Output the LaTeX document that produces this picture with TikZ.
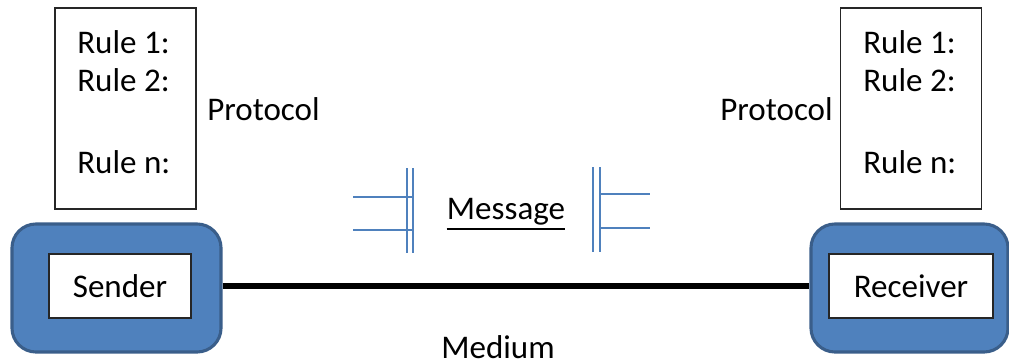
\documentclass[tikz,border=0pt]{standalone}
\usepackage{fontspec}
\setmainfont{Carlito}
\definecolor{boxblue}{RGB}{79,129,189}
\definecolor{boxedge}{RGB}{58,94,138}
\begin{document}
\begin{tikzpicture}[x=0.025cm, y=-0.025cm, font=\fontsize{23.5}{28}\selectfont]

      \tikzset{rulebox/.style={draw=black!85, line width=0.8pt, minimum width=3.525cm, minimum height=5.025cm, inner sep=0pt},
               station/.style={draw=boxedge, fill=boxblue, line width=2.2pt, rounded corners=0.6cm, minimum height=3.2cm, inner sep=0pt},
               namebox/.style={draw=black!85, fill=white, line width=0.8pt, minimum height=1.6cm, inner sep=0pt},
               rule/.style={anchor=west, inner sep=0pt},
               plug/.style={draw=boxblue, line width=1.1pt}}
      \useasboundingbox (0,0) rectangle (1009,362);
%% Stations
      	\node[station, minimum width=5.225cm] (sbox) at (116.5,288) {};
      	\node[station, minimum width=4.925cm] (rbox) at (909.5,288) {};
      	\node[namebox, minimum width=3.55cm] (sender) at (120,286) {Sender};
      	\node[namebox, minimum width=4.1cm] (receiver) at (911,286) {Receiver};
%% Rule boxes
      	\node[rulebox] (lrules) at (125.5,108.5) {};
      	\node[rulebox] (rrules) at (911,108.5) {};
      	\node[rule] (l1) at (77,42) {Rule 1:};
      	\node[rule] (l2) at (77,80) {Rule 2:};
      	\node[rule] (ln) at (77,162) {Rule n:};
      	\node[rule] (r1) at (863,42) {Rule 1:};
      	\node[rule] (r2) at (863,80) {Rule 2:};
      	\node[rule] (rn) at (863,162) {Rule n:};
      	\node[rule] (lproto) at (207,109) {Protocol};
      	\node[rule, anchor=east] (rproto) at (833,109) {Protocol};
%% Medium
		\draw[line width=3.6pt] (sender.east -| sbox.east) -- (receiver.west -| rbox.west);
      	\node[inner sep=0pt, anchor=north] (medium) at (498,335) {Medium};
      	\node[inner sep=0pt] (message) at (506,212) {Message};
		\draw[line width=1.5pt] ([yshift=-2.5pt]message.south west) -- ([yshift=-2.5pt]message.south east);
%% Plugs
		\draw[plug] (407,168) -- (407,253) (413,168) -- (413,253);
		\draw[plug] (353,197) -- (413,197) (353,230) -- (413,230);
		\draw[plug] (593,167) -- (593,252) (600,167) -- (600,252);
		\draw[plug] (600,194) -- (650,194) (600,228) -- (650,228);

	\end{tikzpicture}
\end{document}
